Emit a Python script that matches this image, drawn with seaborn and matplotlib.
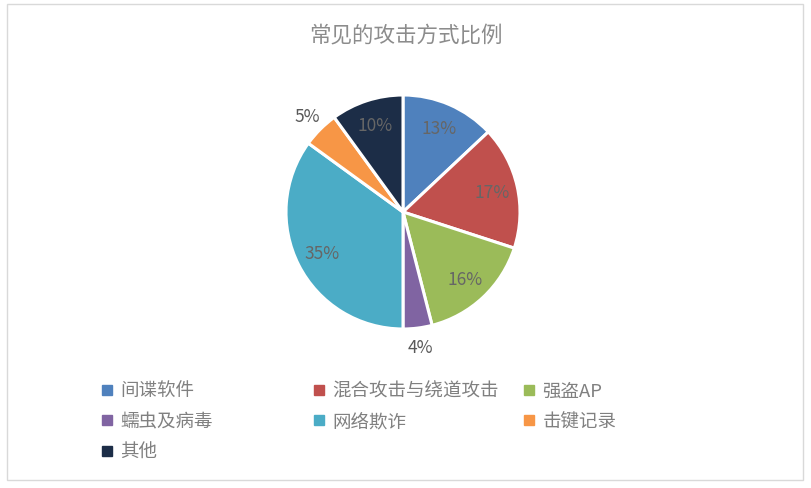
import matplotlib
matplotlib.use('Agg')
import matplotlib.pyplot as plt
from matplotlib.lines import Line2D
from matplotlib.patches import Rectangle
import numpy as np
import seaborn as sns

categories = ['间谍软件', '混合攻击与绕道攻击', '强盗AP', '蠕虫及病毒', '网络欺诈', '击键记录', '其他']
shares = [13, 17, 16, 4, 35, 5, 10]
colors = ['#4F81BD', '#C0504D', '#9BBB59', '#8064A2', '#4BACC6', '#F79646', '#1C2D47']
title = '常见的攻击方式比例'

sns.set_theme(style='white')
plt.rcParams['font.family'] = ['Noto Sans CJK SC', 'DejaVu Sans']

W, H = 811, 489
fig = plt.figure(figsize=(W / 100, H / 100), dpi=100)
fig.patch.set_facecolor('white')
fig.patches.append(Rectangle((7 / W, 1 - 481 / H), 796 / W, 476 / H, transform=fig.transFigure,
                             fill=False, edgecolor='#d9d9d9', linewidth=1))

# pie placed where the reference has it
cx, cy, r = 403, 213, 117
ax = fig.add_axes([(cx - r) / W, 1 - (cy + r) / H, 2 * r / W, 2 * r / H])
palette = sns.color_palette(colors)
wedges, _ = ax.pie(shares, colors=palette, startangle=90, counterclock=False,
                   wedgeprops=dict(edgecolor='white', linewidth=2.2))
ax.set_xlim(-1, 1)
ax.set_ylim(-1, 1)
ax.set_aspect('equal')
ax.axis('off')

for w, v in zip(wedges, shares):
    mid = np.deg2rad((w.theta1 + w.theta2) / 2)
    if v < 8:
        d, col = 1.16, '#595959'
    else:
        d, col = 0.78, '#666666'
    ax.text(d * np.cos(mid), d * np.sin(mid), f'{v}%', ha='center', va='center',
            fontsize=12.5, color=col)

fig.text(0.5, 1 - 35 / H, title, ha='center', va='center', fontsize=15.5, color='#8c8c8c')

# legend: three columns, filled row by row
col_x = [101, 313, 523]
for k in range(3):
    idx = list(range(k, len(categories), 3))
    handles = [Line2D([], [], marker='s', linestyle='none', markersize=7,
                      markerfacecolor=colors[i], markeredgecolor=colors[i]) for i in idx]
    fig.legend(handles, [categories[i] for i in idx], loc='upper left',
               bbox_to_anchor=(col_x[k] / W, 1 - 383 / H), frameon=False,
               fontsize=13.3, labelcolor='#808080', handlelength=0.7,
               handletextpad=0.35, borderpad=0, borderaxespad=0, labelspacing=0.68)

fig.savefig('out.png', dpi=100)
